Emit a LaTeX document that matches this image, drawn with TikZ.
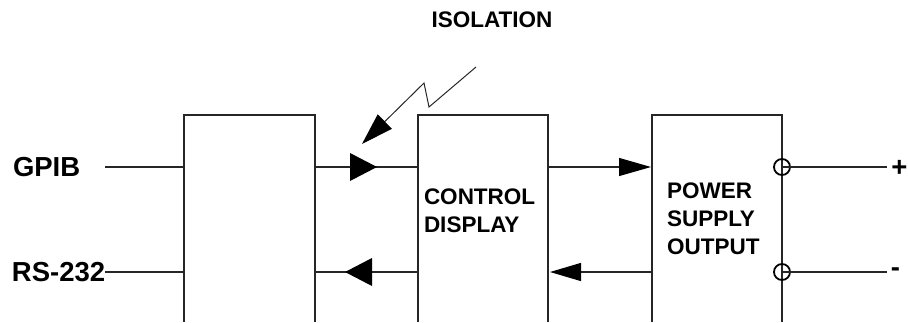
\documentclass[tikz,border=0pt]{standalone}
\usepackage{fontspec}
\setmainfont{Liberation Sans}
\usetikzlibrary{arrows.meta}
\begin{document}
\begin{tikzpicture}[x=1pt,y=-1pt,
  blk/.style={draw=none, inner sep=0pt, outer sep=0pt, minimum height=207pt},
  wire/.style={line width=1.2pt, draw=black!85},
  lbl/.style={font=\fontsize{27.5}{30}\selectfont\bfseries, inner sep=0pt, outer sep=0pt},
  blktxt/.style={font=\fontsize{22.5}{28}\selectfont\bfseries, align=left, inner sep=0pt, outer sep=0pt, anchor=north west},
  term/.style={circle, draw, minimum size=16pt, inner sep=0pt, outer sep=0pt, line width=1.8pt},
  arrowhd/.style={fill=black, draw=none}]
\useasboundingbox (0,0) rectangle (908,322);

% blocks (open at the bottom)
\node[blk, minimum width=131pt] (b1) at (249.5,218.5) {};
\node[blk, minimum width=130pt] (b2) at (483,218.5) {};
\node[blk, minimum width=130pt] (b3) at (717,218.5) {};
\draw[wire] (b1.south west) |- (b1.north east) -- (b1.south east);
\draw[wire] (b2.south west) |- (b2.north east) -- (b2.south east);
\draw[wire] (b3.south west) |- (b3.north east) -- (b3.south east);

% texts in blocks
\node[blktxt] (t2) at (424,189) {CONTROL\\DISPLAY};
\node[blktxt] (t3) at (667,183) {POWER\\SUPPLY\\OUTPUT};

% left labels and wires
\node[lbl, anchor=west] (gpib) at (13,167) {GPIB};
\node[lbl, anchor=west] (rs) at (12,272) {RS-232};
\coordinate (g0) at (105,167);
\coordinate (r0) at (105,272);
\draw[wire] (g0) -- (g0 -| b1.west);
\draw[wire] (r0) -- (r0 -| b1.west);

% between block 1 and block 2
\draw[wire] (b1.east |- g0) -- (b2.west |- g0);
\draw[wire] (b2.west |- r0) -- (b1.east |- r0);
\coordinate (a1) at (377,167);
\coordinate (a2) at (345,272);
\fill[arrowhd] (a1) -- ++(-27,-14) -- ++(0,28) -- cycle;
\fill[arrowhd] (a2) -- ++(27,-14) -- ++(0,28) -- cycle;

% between block 2 and block 3
\draw[wire, -{Triangle[length=32pt,width=18pt,color=black]}] (b2.east |- g0) -- ([xshift=-1pt]b3.west |- g0);
\draw[wire, -{Triangle[length=31pt,width=18pt,color=black]}] (b3.west |- r0) -- ([xshift=2pt]b2.east |- r0);

% output terminals
\node[term] (tp) at (782,167) {};
\node[term] (tm) at (782,272) {};
\coordinate (p1) at (887,167);
\coordinate (m1) at (887,272);
\draw[wire] (tp.center) -- (p1);
\draw[wire] (tm.center) -- (m1);
\node[lbl] (plus) at (899.5,168) {+};
\node[lbl] (minus) at (895.5,272) {-};

% isolation
\node[font=\fontsize{22.5}{26}\selectfont\bfseries, inner sep=0pt] (iso) at (492,20) {ISOLATION};
\coordinate (l0) at (476,67);
\coordinate (l1) at (429,107);
\coordinate (l2) at (424,83);
\coordinate (l3) at (362,144);
\draw[line width=1pt, draw=black!85, -{Triangle[length=32pt,width=20pt,color=black]}] (l0) -- (l1) -- (l2) -- (l3);
\end{tikzpicture}
\end{document}
